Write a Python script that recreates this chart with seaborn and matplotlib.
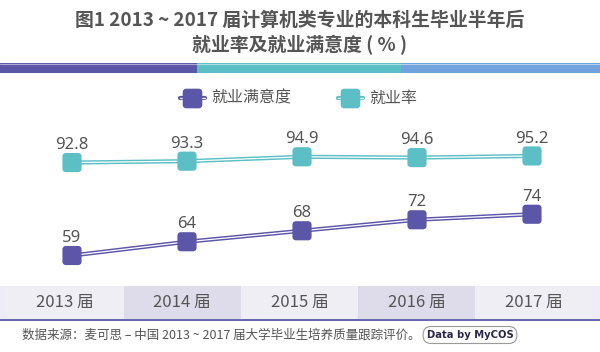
import numpy as np
import pandas as pd
import seaborn as sns
import matplotlib.pyplot as plt
import matplotlib.patheffects as pe
from matplotlib.path import Path
from matplotlib.patches import Rectangle

# chart data
years = ['2013 届', '2014 届', '2015 届', '2016 届', '2017 届']
employment_rate = [92.8, 93.3, 94.9, 94.6, 95.2]
satisfaction = [59, 64, 68, 72, 74]
series_names = ['就业满意度', '就业率']

title_1 = '图1 2013 ~ 2017 届计算机类专业的本科生毕业半年后'
title_2 = '就业率及就业满意度 ( % )'
source = '数据来源：麦可思 – 中国 2013 ~ 2017 届大学毕业生培养质量跟踪评价。'

PURPLE = '#5b56a8'
TEAL = '#5cbfc5'
BLUE = '#72a2dc'
GREY = '#555555'

sns.set_theme(style='white')
plt.rcParams['font.family'] = ['Noto Sans CJK SC', 'DejaVu Sans']

W, H = 600, 352
fig = plt.figure(figsize=(W / 100, H / 100), dpi=100)
fig.patch.set_facecolor('white')


def px_axes(x0, y0, x1, y1, **kw):
    # axes placed in pixel coords (origin top-left)
    return fig.add_axes([x0 / W, 1 - y1 / H, (x1 - x0) / W, (y1 - y0) / H], **kw)


def rounded_square(r=0.35, n=8):
    verts = []
    corners = [(1 - r, 1 - r, 0), (-1 + r, 1 - r, 90), (-1 + r, -1 + r, 180), (1 - r, -1 + r, 270)]
    for cx, cy, a0 in corners:
        for t in np.linspace(np.radians(a0), np.radians(a0 + 90), n):
            verts.append((cx + r * np.cos(t), cy + r * np.sin(t)))
    verts.append(verts[0])
    codes = [Path.MOVETO] + [Path.LINETO] * (len(verts) - 2) + [Path.CLOSEPOLY]
    return Path(verts, codes)


marker = rounded_square()

# background / decoration layer in pixel units
bg = px_axes(0, 0, W, H)
bg.set_xlim(0, W)
bg.set_ylim(H, 0)
bg.axis('off')

bg.text(300, 20, title_1, ha='center', va='center', fontsize=13.6, fontweight='bold', color=GREY)
bg.text(300, 45, title_2, ha='center', va='center', fontsize=13.6, fontweight='bold', color=GREY)

for x0, x1, c in [(0, 197, PURPLE), (197, 401, TEAL), (401, 600, BLUE)]:
    bg.add_patch(Rectangle((x0, 63), x1 - x0, 10, color=c, lw=0))
bg.plot([0, 600], [63.5, 63.5], color='white', lw=0.8, alpha=0.5)

# legend
for (cx, name, c) in [(192, series_names[0], PURPLE), (350, series_names[1], TEAL)]:
    bg.plot([cx - 12, cx + 13], [98, 98], color='white', lw=0.9,
            path_effects=[pe.Stroke(linewidth=3.0, foreground=c), pe.Normal()])
    bg.scatter([cx], [98], marker=marker, s=200, color=c, linewidths=0, zorder=3)
    bg.text(cx + 19, 98, name, ha='left', va='center', fontsize=11.5, color=GREY)

# footer
bg.text(22, 335, source, ha='left', va='center', fontsize=9.0, color=GREY)
bg.text(470, 335, 'Data by MyCOS', ha='center', va='center', fontsize=7.2,
        fontweight='bold', color='#2a2a4a', family=['DejaVu Sans'],
        bbox=dict(boxstyle='round,pad=0.35,rounding_size=0.8', fc='white', ec='#9a9a9a', lw=0.8))

# bottom category band
band = px_axes(0, 286, W, 319)
sns.barplot(x=list(range(len(years))), y=[1] * len(years), native_scale=True, ax=band,
            palette=['#eeedf6', '#dcdaec'] * 2 + ['#eeedf6'], hue=list(range(len(years))),
            legend=False, width=1.0, linewidth=0)
band.set_facecolor('#eeedf6')
band.set_xlim(-65 / 117.25, (600 - 65) / 117.25)
band.set_ylim(0, 1)
for i, y in enumerate(years):
    band.text(i, 0.5, y, ha='center', va='center', fontsize=12, color=GREY)
band.set_xticks([])
band.set_yticks([])
band.set_xlabel('')
band.set_ylabel('')
for s in band.spines.values():
    s.set_visible(False)
bg.plot([0, 600], [319.5, 319.5], color=PURPLE, lw=1.3)

# main chart
df = pd.DataFrame({
    'x': list(range(len(years))) * 2,
    'value': satisfaction + employment_rate,
    'series': [series_names[0]] * len(years) + [series_names[1]] * len(years),
})
palette = {series_names[0]: PURPLE, series_names[1]: TEAL}

ax = px_axes(0, 115, W, 285)
ax.set_facecolor('none')
for name in series_names:
    sub = df[df['series'] == name]
    sns.lineplot(data=sub, x='x', y='value', ax=ax, color='white', lw=0.9, legend=False,
                 path_effects=[pe.Stroke(linewidth=3.0, foreground=palette[name]), pe.Normal()])
sns.scatterplot(data=df, x='x', y='value', hue='series', palette=palette, marker=marker,
                s=190, linewidth=0, ax=ax, legend=False, zorder=3)

for _, r in df.iterrows():
    lbl = f"{r['value']:g}"
    ax.annotate(lbl, (r['x'], r['value']), xytext=(0, 12.5), textcoords='offset points',
                ha='center', va='center', fontsize=12, color=GREY, family=['Noto Sans'])

ax.set_xlim(-72 / 115, (600 - 72) / 115)
ax.set_ylim(59 - (285 - 255.5) / 2.75, 59 + (255.5 - 115) / 2.75)
ax.axis('off')

fig.savefig('out.png', dpi=100, facecolor='white')
